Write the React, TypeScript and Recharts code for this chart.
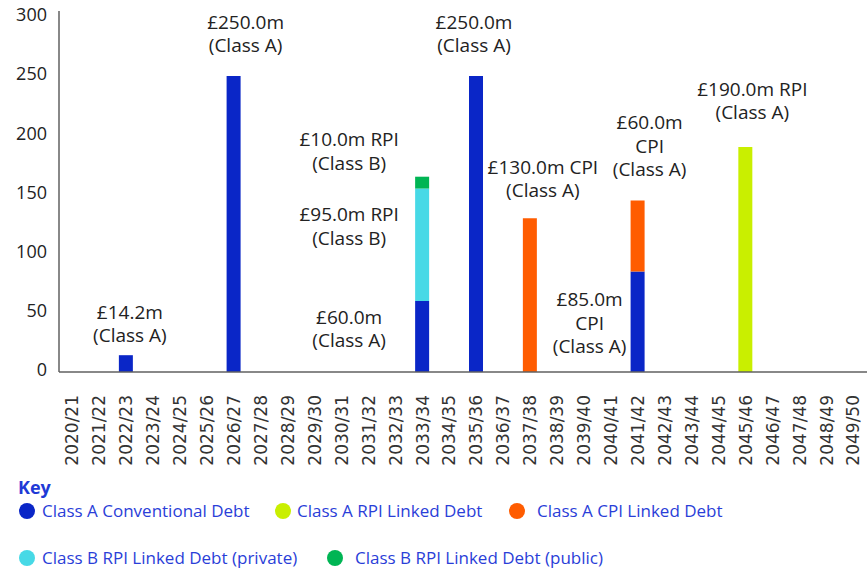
import React from "react";
import { BarChart, Bar, XAxis, YAxis, LabelList } from "recharts";

// Financial years on the x axis
const YEARS = [
  "2020/21", "2021/22", "2022/23", "2023/24", "2024/25", "2025/26", "2026/27", "2027/28",
  "2028/29", "2029/30", "2030/31", "2031/32", "2032/33", "2033/34", "2034/35", "2035/36",
  "2036/37", "2037/38", "2038/39", "2039/40", "2040/41", "2041/42", "2042/43", "2043/44",
  "2044/45", "2045/46", "2046/47", "2047/48", "2048/49", "2049/50",
];

// Maturities (£m) per year, one array per debt class
const classAConventional = [0, 0, 14.2, 0, 0, 0, 250, 0, 0, 0, 0, 0, 0, 60, 0, 250, 0, 0, 0, 0, 0, 85, 0, 0, 0, 0, 0, 0, 0, 0];
const classARpi = [0, 0, 0, 0, 0, 0, 0, 0, 0, 0, 0, 0, 0, 0, 0, 0, 0, 0, 0, 0, 0, 0, 0, 0, 0, 190, 0, 0, 0, 0];
const classACpi = [0, 0, 0, 0, 0, 0, 0, 0, 0, 0, 0, 0, 0, 0, 0, 0, 0, 130, 0, 0, 0, 60, 0, 0, 0, 0, 0, 0, 0, 0];
const classBRpiPrivate = [0, 0, 0, 0, 0, 0, 0, 0, 0, 0, 0, 0, 0, 95, 0, 0, 0, 0, 0, 0, 0, 0, 0, 0, 0, 0, 0, 0, 0, 0];
const classBRpiPublic = [0, 0, 0, 0, 0, 0, 0, 0, 0, 0, 0, 0, 0, 10, 0, 0, 0, 0, 0, 0, 0, 0, 0, 0, 0, 0, 0, 0, 0, 0];

const Y_TICKS = [0, 50, 100, 150, 200, 250, 300];

const SERIES = [
  { key: "conv", name: "Class A Conventional Debt", color: "#0a26c7", values: classAConventional },
  { key: "rpiA", name: "Class A RPI Linked Debt", color: "#c9ef00", values: classARpi },
  { key: "cpiA", name: "Class A CPI Linked Debt", color: "#ff5c00", values: classACpi },
  { key: "rpiBPriv", name: "Class B RPI Linked Debt (private)", color: "#47d9e6", values: classBRpiPrivate },
  { key: "rpiBPub", name: "Class B RPI Linked Debt (public)", color: "#00b554", values: classBRpiPublic },
];

const data = YEARS.map((year, i) => {
  const row: Record<string, string | number> = { year };
  SERIES.forEach((s) => (row[s.key] = s.values[i]));
  return row;
});

const fmt = (v: number) => `£${v.toFixed(1)}m`;

// Callout text per series/year; dx, dy place the first line relative to the segment top
const NOTES: Record<string, Record<string, { lines: string[]; dx: number; dy: number }>> = {
  conv: {
    "2022/23": { lines: [fmt(14.2), "(Class A)"], dx: 4, dy: -43 },
    "2026/27": { lines: [fmt(250), "(Class A)"], dx: 12, dy: -54 },
    "2033/34": { lines: [fmt(60), "(Class A)"], dx: -73, dy: 16 },
    "2035/36": { lines: [fmt(250), "(Class A)"], dx: -2, dy: -54 },
    "2041/42": { lines: [fmt(85), "CPI", "(Class A)"], dx: -48, dy: 28 },
  },
  rpiA: {
    "2045/46": { lines: [`${fmt(190)} RPI`, "(Class A)"], dx: 7, dy: -58 },
  },
  cpiA: {
    "2037/38": { lines: [`${fmt(130)} CPI`, "(Class A)"], dx: 13, dy: -51 },
    "2041/42": { lines: [fmt(60), "CPI", "(Class A)"], dx: 12, dy: -78 },
  },
  rpiBPriv: {
    "2033/34": { lines: [`${fmt(95)} RPI`, "(Class B)"], dx: -73, dy: 26 },
  },
  rpiBPub: {
    "2033/34": { lines: [`${fmt(10)} RPI`, "(Class B)"], dx: -73, dy: -37 },
  },
};

const LABEL_FONT = "'Open Sans', sans-serif";

// LabelList is keyed on "year", so value tells which callout belongs to the segment
const renderNote = (seriesKey: string) => (props: any) => {
  const { x, y, width, value } = props;
  const note = NOTES[seriesKey][String(value)];
  if (!note) return null;
  const cx = Number(x) + Number(width) / 2 + note.dx;
  const top = Number(y) + note.dy;
  return (
    <g>
      {note.lines.map((line, i) => (
        <text key={i} x={cx} y={top + i * 23.5} dy="0.35em" textAnchor="middle"
          fontFamily={LABEL_FONT} fontSize={19} fill="#222">
          {line}
        </text>
      ))}
    </g>
  );
};

const YearTick = ({ x, y, payload }: any) => (
  <text x={x} y={y + 15} dy="0.35em" textAnchor="end" transform={`rotate(-90 ${x} ${y + 15})`}
    fontFamily="'DejaVu Sans', sans-serif" fontSize={17} fill="#333">
    {payload.value}
  </text>
);

const ValueTick = ({ x, y, payload }: any) => (
  <text x={x - 4} y={y - 2} dy="0.35em" textAnchor="end"
    fontFamily={LABEL_FONT} fontSize={18} fill="#222">
    {payload.value}
  </text>
);

// Legend placement (two rows under the chart)
const LEGEND_POS = [
  { dot: 27, text: 42, top: 511 },
  { dot: 283, text: 297, top: 511 },
  { dot: 517, text: 537, top: 511 },
  { dot: 27, text: 42, top: 558 },
  { dot: 335, text: 355, top: 558 },
];

export default function App() {
  return (
    <div style={{ position: "absolute", left: 0, top: 0, width: 867, height: 569, background: "#fff" }}>
      <BarChart width={867} height={470} data={data} margin={{ top: 11, right: 0, bottom: 8, left: 0 }}>
        <XAxis dataKey="year" interval={0} height={90} tickLine={false}
          axisLine={{ stroke: "#606060", strokeWidth: 1.5 }} tick={<YearTick />} />
        <YAxis width={59} domain={[0, 305]} ticks={Y_TICKS} tickLine={false}
          axisLine={{ stroke: "#606060", strokeWidth: 1.5 }} tick={<ValueTick />} />
        {SERIES.map((s) => (
          <Bar key={s.key} dataKey={s.key} name={s.name} stackId="a" fill={s.color}
            barSize={14} isAnimationActive={false}>
            <LabelList dataKey="year" content={renderNote(s.key)} />
          </Bar>
        ))}
      </BarChart>
      <div style={{ position: "absolute", left: 18, top: 476, fontFamily: LABEL_FONT, fontWeight: 700,
        fontSize: 18, color: "#1f3ad6", lineHeight: "22px" }}>
        Key
      </div>
      {SERIES.map((s, i) => {
        const p = LEGEND_POS[i];
        return (
          <React.Fragment key={s.key}>
            <div style={{ position: "absolute", left: p.dot - 8, top: p.top - 8, width: 16, height: 16,
              borderRadius: "50%", background: s.color }} />
            <div style={{ position: "absolute", left: p.text, top: p.top - 12, fontFamily: LABEL_FONT,
              fontSize: 17, lineHeight: "24px", color: "#2a3ed8", whiteSpace: "nowrap" }}>
              {s.name}
            </div>
          </React.Fragment>
        );
      })}
    </div>
  );
}
